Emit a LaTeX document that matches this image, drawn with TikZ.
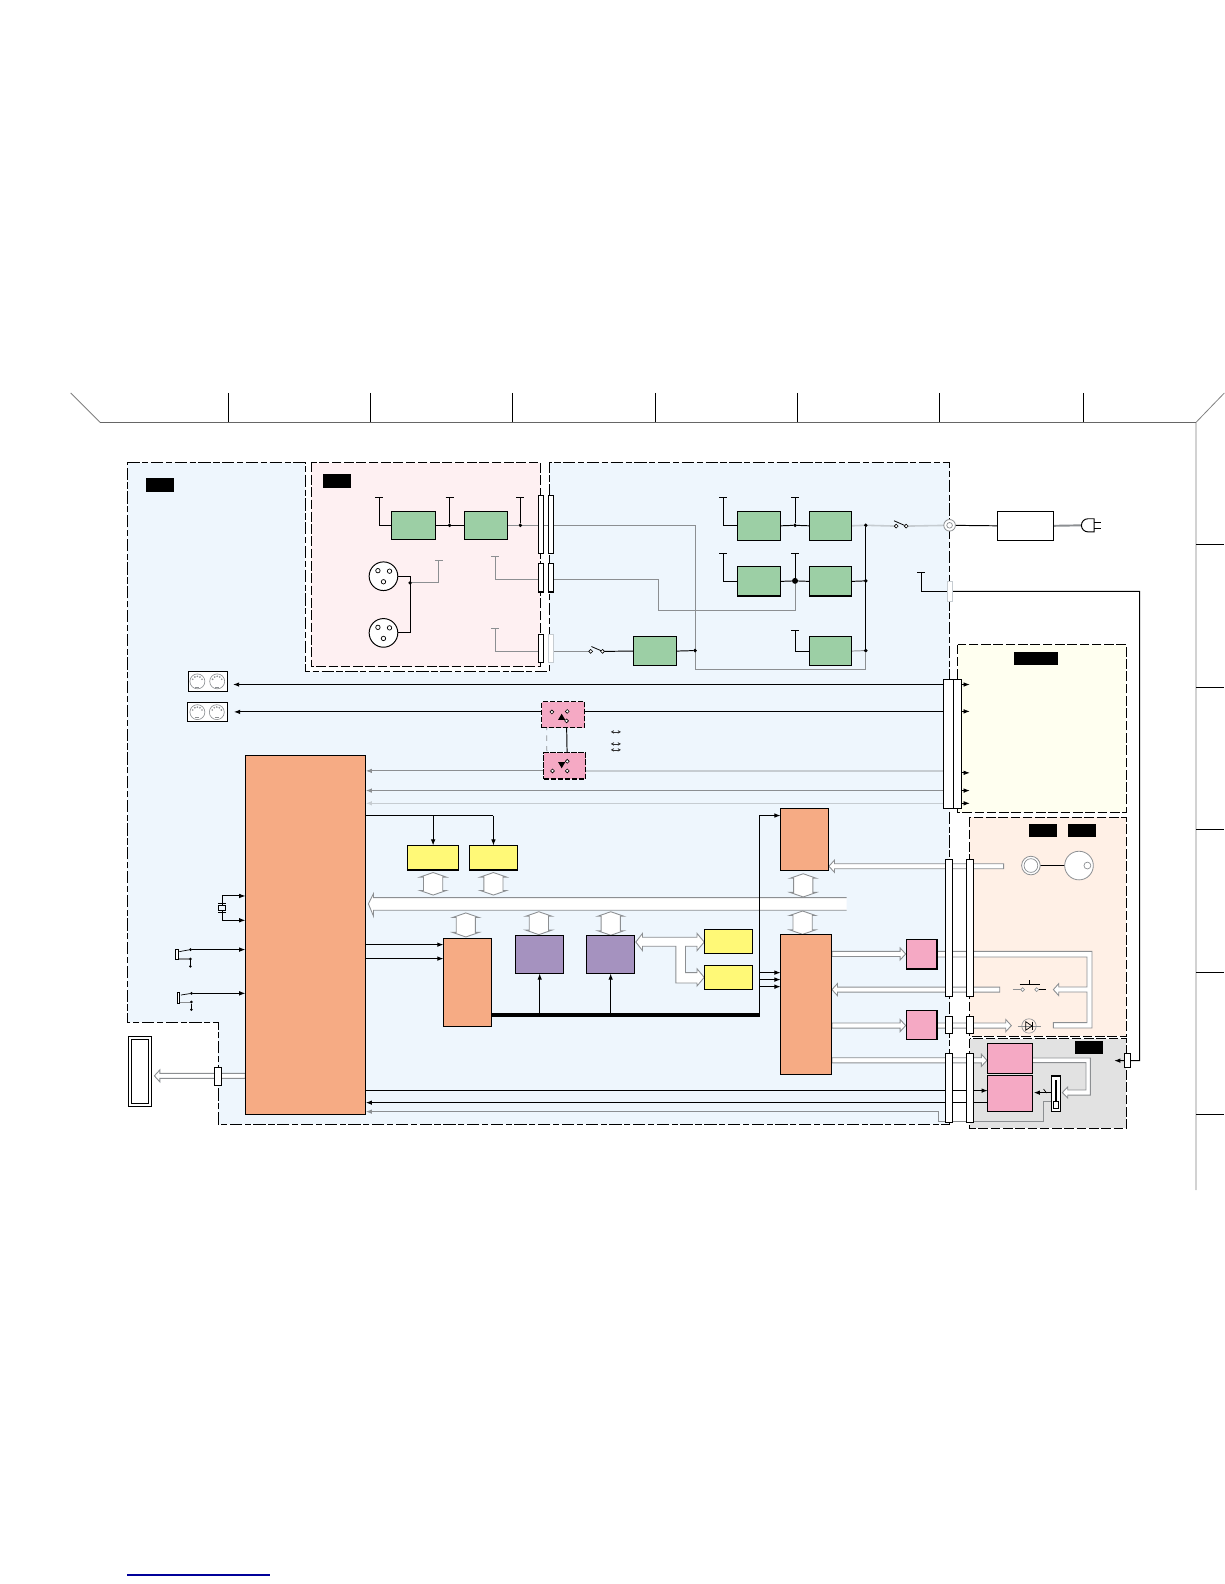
\documentclass[tikz,border=0pt]{standalone}
\usepackage{xcolor}
\usetikzlibrary{arrows.meta,calc,fit,backgrounds}
\definecolor{mainblue}{HTML}{EEF6FD}
\definecolor{inputpink}{HTML}{FEF0F2}
\definecolor{panelcream}{HTML}{FFFFF0}
\definecolor{paneltan}{HTML}{FFF0E6}
\definecolor{panelgray}{HTML}{E2E2E2}
\definecolor{blockgreen}{HTML}{9CCFA5}
\definecolor{blockorange}{HTML}{F6AB84}
\definecolor{blockyellow}{HTML}{FFF977}
\definecolor{blockviolet}{HTML}{A592BF}
\definecolor{blockrose}{HTML}{F5A9C4}
\definecolor{midwire}{HTML}{8C8F92}
\definecolor{palewire}{HTML}{C6CCD1}
\tikzset{
  region/.style={draw=black,line width=.6pt,dash pattern=on 7pt off 1.5pt on 3.5pt off 1.5pt},
  panel/.style={draw=black,line width=.6pt,dash pattern=on 5.5pt off 1.5pt},
  block/.style={draw,line width=.6pt,inner sep=0pt,outer sep=0pt},
  tagbox/.style={fill=black,inner sep=0pt,outer sep=0pt},
  plugstrip/.style={block,fill=white},
  palestrip/.style={block,draw=palewire,fill=white},
  swbox/.style={block,fill=blockrose,dash pattern=on 3pt off 1pt},
  wire/.style={line width=.55pt},
  grayw/.style={wire,draw=midwire},
  palew/.style={line width=.9pt,draw=palewire},
  tee/.style={wire,-{Bar[width=4.5pt,line width=.55pt]}},
  graytee/.style={grayw,-{Bar[width=4.5pt,line width=.45pt]}},
  jdot/.style={circle,fill=black,inner sep=0pt,outer sep=0pt,minimum size=2pt},
  contact/.style={circle,draw,fill=white,line width=.35pt,inner sep=0pt,outer sep=0pt,minimum size=2.2pt},
  busline/.style={draw=midwire,fill=white,line width=.5pt}
}
\newcommand{\busright}[2]{\draw[busline] ($(#1)+(0,-2.5)$) -- ($(#2)+(-5.5,-2.5)$) -- ($(#2)+(-5.5,-6)$) -- (#2) -- ($(#2)+(-5.5,6)$) -- ($(#2)+(-5.5,2.5)$) -- ($(#1)+(0,2.5)$) -- cycle;}
\newcommand{\busleft}[2]{\draw[busline] ($(#1)+(0,-2.5)$) -- ($(#2)+(5.5,-2.5)$) -- ($(#2)+(5.5,-6)$) -- (#2) -- ($(#2)+(5.5,6)$) -- ($(#2)+(5.5,2.5)$) -- ($(#1)+(0,2.5)$) -- cycle;}
\newcommand{\busboth}[2]{\draw[busline] ($(#1)+(0,2.5)$) -- ($(#1)+(13,7)$) -- ($(#1)+(9.5,7)$) -- ($(#2)+(9.5,-7)$) -- ($(#2)+(13,-7)$) -- ($(#2)+(0,-2.5)$) -- ($(#2)+(-13,-7)$) -- ($(#2)+(-9.5,-7)$) -- ($(#1)+(-9.5,7)$) -- ($(#1)+(-13,7)$) -- cycle;}
\begin{document}
\begin{tikzpicture}[x=0.0202cm,y=-0.0202cm,>={Latex[length=3.5pt,width=2.6pt]}]
  \useasboundingbox (0,0) rectangle (1212,1568);

  \foreach \name/\xa/\ya/\xb/\yb in {ampa/388/506/431/534,ampb/460/506/502/534,ampc/730/506/773/535,ampd/801/506/843/535,ampe/730/561/773/590,ampf/801/561/843/590,ampg/627/630/670/659,amph/801/630/843/659}
    \node[block,fill=blockgreen,fit={(\xa,\ya)(\xb,\yb)}] (\name) {};
  \foreach \name/\xa/\ya/\xb/\yb in {cpu/242.9/747.9/362.1/1103.4,orb/439/929.2/486.9/1016.3,orc/772.7/800.4/820.5/861.8,ord/772.7/925.2/823.5/1063.8}
    \node[block,fill=blockorange,fit={(\xa,\ya)(\xb,\yb)}] (\name) {};
  \foreach \name/\xa/\ya/\xb/\yb in {ylwa/403.3/837/454.2/861.2,ylwb/464.7/837/512.2/861.2,ylwc/697.4/920.2/745.3/944.3,ylwd/697.4/955.5/745.3/979.6}
    \node[block,fill=blockyellow,fit={(\xa,\ya)(\xb,\yb)}] (\name) {};
  \foreach \name/\xa/\ya/\xb/\yb in {vla/510.3/926.2/558.2/963.7,vlb/580.6/926.2/628.4/963.7}
    \node[block,fill=blockviolet,fit={(\xa,\ya)(\xb,\yb)}] (\name) {};
  \foreach \name/\xa/\ya/\xb/\yb in {rpa/897.4/930.1/927.5/959.2,rpb/897.4/1000.4/927.5/1029.2,rpc/977.7/1033.1/1021.6/1062.2,rpd/977.7/1064.8/1021.6/1100.4}
    \node[block,fill=blockrose,fit={(\xa,\ya)(\xb,\yb)}] (\name) {};
  \node[swbox,fit={(536.4,694.8)(579,720.2)}] (swa) {};
  \node[swbox,fit={(538.4,745.3)(580,771.1)}] (swb) {};
  \node[block,fill=white,fit={(987,506)(1043,535)}] (psu) {};

  \foreach \name/\xa/\ya/\xb/\yb in {tagmain/144.6/473.3/172/487,taginp/320/469.4/347.6/483,tagcream/1004/645/1047/658,tagtana/1018.9/815.9/1046.7/828.4,tagtanb/1057.5/815.9/1085.3/828.4,taggray/1064.5/1030.8/1092.3/1043.4}
    \node[tagbox,fit={(\xa,\ya)(\xb,\yb)}] (\name) {};

  \foreach \name/\xa/\ya/\xb/\yb in {stripaa/533/490.5/538/547.5,stripab/542.5/490.5/548/547.5,stripba/533/557.7/538/586,stripbb/542.5/557.7/548/586,stripca/533/628/538/655.6,stripta/936/850.9/943.3/986.5,striptb/956.9/850.9/964.1/986.5,striptc/936/1006.4/943.3/1023.2,striptd/956.9/1006.4/964.1/1023.2,stripte/936/1043/943.3/1111.3,striptf/956.9/1043/964.1/1111.3,stripe/1112.7/1043/1118.7/1056.9,stripf/212.3/1056.9/219.5/1074.6,bigstrip/934/673/944/800.4,bigstripb/944/673/951.9/800.4}
    \node[plugstrip,fit={(\xa,\ya)(\xb,\yb)}] (\name) {};
  \node[palestrip,fit={(542.5,628)(548,655.6)}] (stripcb) {};
  \node[palestrip,fit={(937.7,576)(943,595)}] (stripd) {};

  \foreach \name/\cy in {xlra/570.4,xlrb/626.5}{
    \node[circle,draw,fill=white,line width=.55pt,minimum size=16.3pt,inner sep=0pt,outer sep=0pt] (\name) at (379.6,\cy) {};
    \draw[line width=.4pt] (\name) ++(-5.5,-5.5) circle (2.2) (\name) ++(6,-5) circle (2.2) (\name) ++(0,5.5) circle (2.2);
  }
  \foreach \name/\xa/\ya/\xb/\yb/\ca/\cb in {dina/186.5/664.7/225.5/684.3/195.4/215,dinb/185.5/695.3/225.5/714.6/195.4/214.6}{
    \node[block,fill=white,fit={(\xa,\ya)(\xb,\yb)}] (\name) {};
    \foreach \cx in {\ca,\cb}{
      \draw[draw=midwire,line width=.35pt] (\name) ++(\cx-\xa/2-\xb/2,0) circle (7.4);
      \foreach \ang in {25,60,90,120,155}
        \fill[midwire] (\name) ++(\cx-\xa/2-\xb/2,0) ++(\ang:-5) circle (.9);
      \draw[draw=midwire,line width=.45pt] (\name) ++(\cx-\xa/2-\xb/2-2,5.6) -- ++(4,0);
    }
  }

  \foreach \name/\x/\y/\sz in {ja/445/520/2.2pt,jb/515/520/2.2pt,jc/787/520/2.2pt,jd/857/520/2.2pt,je/787/575/3.4pt,jf/857/575/2.2pt,jg/688/644/2.2pt,jh/857/644/2.2pt,ji/406/577/2.2pt}
    \node[jdot,minimum size=\sz] (\name) at (\x,\y) {};
  \foreach \name/\x/\y in {ta/375.6/492,tb/445/492,tc/515/492,td/434.4/554.8,te/490.3/550.6,tf/490.3/573.5,tg/490.3/621.9,th/716/492,ti/787/492,tj/716/547,tk/787/547,tl/787/624,tm/912/566,cb/751.9/1004.7,cc/652/604,cd/688/663,ce/1128/1049.9,cf/1103/1049.9,cg/406/570.4,ch/406/626.5,ci/434.4/577}
    \coordinate (\name) at (\x,\y);
  \foreach \name/\x/\y in {sal/546.3/704.7,sau/561.5/704.2,sar/560.8/713.6,sbl/546.9/763.1,sbu/561.5/753.6,sbr/561.5/763.1,swcl/584.7/644.8,swcr/596.5/644.8,swdl/887.1/520.8,swdr/897/520.8}
    \node[contact] (\name) at (\x,\y) {};
  \node[circle,draw=midwire,fill=white,line width=.45pt,minimum size=6.6pt,inner sep=0pt,outer sep=0pt] (inlet) at (940,520) {};
  \draw[draw=midwire,line width=.4pt] (inlet) circle (2.8);

  \node[circle,draw=midwire,fill=white,line width=.45pt,minimum size=10.6pt,inner sep=0pt,outer sep=0pt] (ringjack) at (1020.5,856.8) {};
  \draw[draw=midwire,line width=.4pt] (ringjack) circle (6.8);
  \node[circle,draw=midwire,fill=white,line width=.45pt,minimum size=16.3pt,inner sep=0pt,outer sep=0pt] (disk) at (1068.1,856.8) {};
  \draw[draw=midwire,line width=.4pt] (1076.4,856.8) circle (3.4);

  \node[block,fit={(216.2,896.8)(223.5,901)}] (xtal) {};
  \node[block,fill=white,fit={(173.6,940)(176.9,949.9)}] (jacka) {};
  \node[block,fill=white,fit={(175.6,982.6)(178,992.9)}] (jackb) {};
  \foreach \name/\x/\y in {jka/188.5/940,jkb/188.5/949.3,jkc/189.5/983.3,jkd/189.5/991.9}
    \node[jdot,minimum size=1.7pt] (\name) at (\x,\y) {};
  \node[block,fill=white,double,double distance=1.1pt,fit={(129.1,1027.2)(148.5,1093.5)}] (disp) {};
  \node[block,fill=white,fit={(1041,1065.1)(1049.9,1100.4)}] (fader) {};
  \draw[line width=1.1pt] (1045.7,1069.4) -- (1045.7,1090.9);
  \node[block,fill=white,fit={(1043.3,1090.6)(1048,1097.6)}] (faderknob) {};
  \node[contact,draw=midwire] (pba) at (1012.3,979.6) {};
  \node[contact,draw=midwire] (pbb) at (1026.2,979.6) {};
  \node[circle,draw=midwire,line width=.35pt,minimum size=8.2pt,inner sep=0pt,outer sep=0pt] (led) at (1018.6,1015.6) {};

  \draw[wire,fill=white] (1077,526.5) arc[start angle=90,end angle=270,radius=6.5] -- (1083,513.5) -- (1083,526.5) -- cycle;
  \draw[wire] (1083,517) -- (1090,517) (1083,523) -- (1090,523);
  \coordinate (plugin) at (1071,520);

  \fill (552.5,712.5) -- (559.5,712.5) -- (556,706.5) -- cycle;
  \fill (552.5,754.5) -- (559.5,754.5) -- (556,760.5) -- cycle;

  \begin{scope}[on background layer]
    \draw[region,fill=mainblue] (126,458) -- (302,458) -- (302,665) -- (544,665) -- (544,458) -- (940,458) -- (940,1113) -- (216,1113) -- (216,1012) -- (126,1012) -- cycle;
    \draw[panel,fill=inputpink] (308,458) rectangle (535,660);
    \draw[panel,fill=panelcream] (948,638) rectangle (1115,804);
    \draw[panel,fill=paneltan] (960,809) rectangle (1115,1026);
    \draw[panel,fill=panelgray] (960,1028) rectangle (1115,1117);

    \draw[gray,line width=.45pt] (70,389) -- (99,418) (1184,418) -- (1212,389) (1184,418) -- (1184,1178);
    \draw[gray!80!black,line width=.8pt] (99,418) -- (1184,418);
    \foreach \x in {226,367,507,649,789,930,1072}
      \draw[line width=.35pt] (\x,389) -- (\x,418);
    \foreach \y in {539,680,821,962,1103}
      \draw[line width=.35pt] (1184,\y) -- (1212,\y);
    \draw[blue!60!black,line width=.7pt] (126,1559) -- (267,1559);

    \node[inner sep=0pt,outer sep=0pt,fit={(369.7,888.5)(838,901)}] (sbus) {};
    \draw[busline] (sbus.north east) -- (sbus.north west) -- (369.7,884.6) -- (364.7,894.75) -- (369.7,906.8) -- (sbus.south west) -- (sbus.south east);

    \draw[tee] (ampa.west) -| (ta);
    \draw[wire] (ampa.east) -- (ja) -- (ampb.west);
    \draw[tee] (ja) -- (tb);
    \draw[grayw] (ampb.east) -- (jb) -- (stripaa.west |- jb);
    \draw[tee] (jb) -- (tc);
    \draw[wire] (xlra.east) -- (cg) -- (ch) -- (xlrb.east);
    \draw[graytee] (ji) -- (ci) -- (td);
    \draw[graytee] (stripba.west |- tf) -- (tf) -- (te);
    \draw[graytee] (stripca.west |- 0,644.8) -- (490.3,644.8) -- (tg);
    \draw[grayw] (stripaa.east |- jb) -- (stripab.west |- jb);
    \draw[grayw] (stripab.east |- jb) -| (cd) -| (jh);
    \draw[grayw] (stripbb.east |- tf) -| (cc) -| (je);
    \draw[grayw] (stripcb.east |- swcl) -- (swcl);
    \draw[line width=.45pt] (585.5,640) -- (swcr);
    \draw[wire] (swcr) -- (ampg.west);
    \draw[wire] (ampg.east) -- (jg);

    \draw[tee] (ampc.west) -| (th);
    \draw[wire] (ampc.east) -- (jc) -- (ampd.west);
    \draw[tee] (jc) -- (ti);
    \draw[tee] (ampe.west) -| (tj);
    \draw[wire] (ampe.east) -- (je) -- (ampf.west);
    \draw[tee] (je) -- (tk);
    \draw[wire] (ampf.east) -- (jf);
    \draw[tee] (amph.west) -| (tl);
    \draw[grayw] (amph.east) -- (jh);
    \draw[wire] (jd) -- (jh);
    \draw[palew] (ampd.east) -- (jd) -- (swdl);
    \draw[line width=.45pt] (885,515.5) -- (swdr);
    \draw[palew] (swdr) -- (inlet);
    \draw[wire] (inlet) -- (psu.west);
    \draw[line width=1.1pt,draw=midwire] (psu.east) -- (plugin);

    \draw[tee] (stripd.west) -| (tm);
    \draw[wire] (stripd.east) -| (ce) -- (stripe.east);
    \draw[wire,->] (stripe.west) -- (cf);

    \draw[wire,->,shorten >=3pt] (bigstrip.west |- 0,677.6) -- (dina.east |- 0,677.6);
    \draw[wire] (bigstrip.west |- sau) -- (sau);
    \draw[wire,->,shorten >=3.5pt] (sal) -- (dinb.east |- sal);
    \draw[line width=.4pt] (sal) -- (sar);
    \draw[line width=.4pt] (sbl) -- (sbu);
    \draw[wire] (sar) -- (sbu);
    \draw[grayw,dashed,line width=.4pt] (546.3,708.1) -- (541.3,721.2) -- (541.3,742.7) -- (547.9,755.9);
    \draw[grayw,->] (sbl) -- (cpu.east |- sbl);
    \draw[palew] (sbr) -- (bigstrip.west |- sbr);
    \draw[grayw,->] (bigstrip.west |- 0,782.6) -- (cpu.east |- 0,782.6);
    \draw[palew,->] (bigstrip.west |- 0,795.2) -- (cpu.east |- 0,795.2);
    \foreach \y in {677.6,704.2,765,782.6,795.2}
      \draw[line width=.4pt,->] (bigstripb.east |- 0,\y) -- ++(8,0);
    \foreach \y in {724.5,736.4,742.3}
      \draw[line width=.35pt,{Stealth[length=1.8pt,width=2pt]}-{Stealth[length=1.8pt,width=2pt]},draw=black!80] (604.7,\y) -- (614.6,\y);

    \draw[wire] (cpu.east |- 0,807.3) -- (ylwb.north |- 0,807.3);
    \draw[wire,->] (ylwa.north |- 0,807.3) -- (ylwa.north);
    \draw[wire,->] (ylwb.north |- 0,807.3) -- (ylwb.north);
    \draw[wire,->] (xtal.north) |- (cpu.west |- 0,886.9);
    \draw[wire,->] (xtal.south) |- (cpu.west |- 0,911);
    \draw[wire] (216,894.4) -- (224,894.4) (216,903.4) -- (224,903.4);
    \draw[wire,->] (jka) -- (cpu.west |- jka);
    \draw[wire,->] (jkc) -- (cpu.west |- jkc);
    \draw[line width=.4pt] (177.5,942) -- (jka) (179,985) -- (jkc);
    \draw[draw=midwire,line width=1pt] (jacka.east |- jkb) -- (jkb);
    \draw[draw=midwire,line width=.6pt] (jackb.east |- jkd) -- (jkd);
    \draw[wire] (jkb) -- (188.5,956.6);
    \draw[wire] (jkd) -- (189.5,999.4);
    \fill (188.5,956.6) circle (1.4) (189.5,999.4) circle (1.4);

    \draw[wire,->] (cpu.east |- 0,935.1) -- (orb.west |- 0,935.1);
    \draw[wire,->] (cpu.east |- 0,948.9) -- (orb.west |- 0,948.9);
    \draw[line width=2pt] (orb.east |- cb) -- (cb);
    \draw[wire,->] (vla.south |- cb) -- (vla.south);
    \draw[wire,->] (vlb.south |- cb) -- (vlb.south);
    \draw[wire,->] (cb) |- (orc.west |- 0,807.3);
    \foreach \y in {962.8,969.7,976.7}
      \draw[wire,->] (cb |- 0,\y) -- (ord.west |- 0,\y);

    \busboth{ylwa.south}{ylwa.south |- sbus.north}
    \busboth{ylwb.south}{ylwb.south |- sbus.north}
    \busboth{461.1,901.2}{461.1,930}
    \busboth{533.4,900}{533.4,927.7}
    \busboth{604.6,900}{604.6,928.3}
    \busboth{795.1,862.4}{795.1,890.4}
    \busboth{794.5,899.3}{794.5,927.4}
    \draw[busline] (629.4,932.5) -- (636,924) -- (636,927.8) -- (690,927.8) -- (690,924) -- (697.1,932.5) -- (690,941) -- (690,936.7) -- (678.6,936.7) -- (678.6,962.8) -- (690,962.8) -- (690,959) -- (697.1,967.5) -- (690,976) -- (690,973.1) -- (669.1,973.1) -- (669.1,936.7) -- (636,936.7) -- (636,941) -- cycle;

    \coordinate (bca) at (993.5,857.5);
    \busleft{bca}{orc.east |- bca}
    \coordinate (bcb) at (989.6,979.6);
    \busleft{bcb}{ord.east |- bcb}
    \coordinate (bcc) at (896.5,944.3);
    \busright{ord.east |- bcc}{bcc}
    \coordinate (bcd) at (896.5,1015.2);
    \busright{ord.east |- bcd}{bcd}
    \coordinate (bce) at (1001.1,1015.2);
    \busright{rpb.east |- bce}{bce}
    \coordinate (bcf) at (977,1049.6);
    \busright{ord.east |- bcf}{bcf}
    \coordinate (bcg) at (152.8,1065);
    \busleft{cpu.west |- bcg}{bcg}
    \draw[busline] (rpa.east |- 0,941.7) -- (1081,941.7) -- (1081,1017.6) -- (1042.7,1017.6) -- (1042.7,1012.3) -- (1076,1012.3) -- (1076,982) -- (1048,982) -- (1048,985.5) -- (1042.7,979.6) -- (1048,973.7) -- (1048,977) -- (1076,977) -- (1076,947.3) -- (rpa.east |- 0,947.3) -- cycle;
    \draw[busline] (rpc.east |- 0,1047.3) -- (1079.4,1047.3) -- (1079.4,1084) -- (1057,1084) -- (1057,1087) -- (1051.6,1081.5) -- (1057,1076) -- (1057,1079) -- (1075,1079) -- (1075,1051.9) -- (rpc.east |- 0,1051.9) -- cycle;

    \draw[wire] (ringjack.east) -- (disk.west);
    \draw[line width=.4pt,draw=midwire] (1002.4,979.6) -- (pba);
    \draw[wire] (pbb) -- (1035.8,979.6);
    \draw[wire] (1009.4,974.4) -- (1029.1,974.4) (1019.3,974.4) -- (1019.3,970.4);
    \draw[line width=.4pt,draw=midwire] (1007.4,1015.6) -- (1030.8,1015.6);
    \draw[line width=.4pt] (1015.4,1011.4) -- (1015.4,1019.8) -- (1021.6,1015.6) -- cycle;
    \draw[line width=.7pt] (1022,1011.4) -- (1022,1019.8);

    \draw[wire,->] (cpu.east |- 0,1079.6) -- (rpd.west |- 0,1079.6);
    \draw[wire,->] (rpd.west |- 0,1091.5) -- (cpu.east |- 0,1091.5);
    \draw[grayw,->] (fader.west |- 0,1089.9) -- (1032.7,1089.9) -- (1032.7,1109.7) -- (929.2,1109.7) -- (929.2,1100.4) -- (cpu.east |- 0,1100.4);
    \draw[wire,->,shorten >=1pt] (fader.west |- 0,1081.6) -- (rpd.east |- 0,1081.6);
    \draw[line width=.4pt] (1033,1078) -- (1036,1082);
  \end{scope}
\end{tikzpicture}
\end{document}
